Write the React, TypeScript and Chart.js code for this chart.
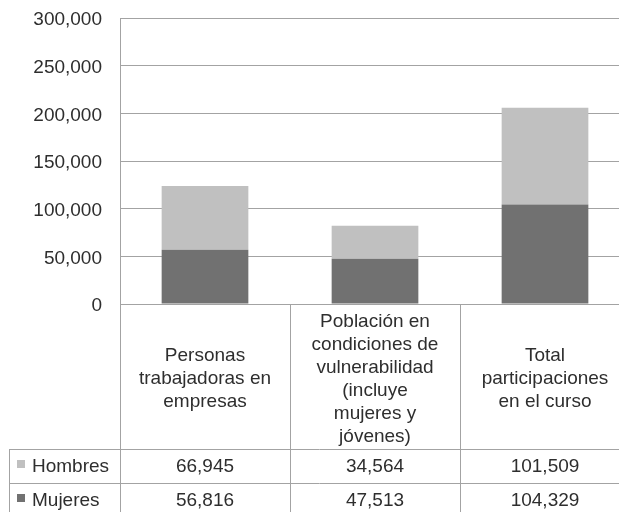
import React, { useEffect, useRef } from 'react';
import { Chart, registerables } from 'chart.js';

Chart.register(...registerables);

const categories: string[][] = [
  ['Personas', 'trabajadoras en', 'empresas'],
  ['Población en', 'condiciones de', 'vulnerabilidad', '(incluye', 'mujeres y', 'jóvenes)'],
  ['Total', 'participaciones', 'en el curso'],
];
const hombres = [66945, 34564, 101509];
const mujeres = [56816, 47513, 104329];
const seriesNames = ['Hombres', 'Mujeres'];
const yMin = 0;
const yMax = 300000;
const yStep = 50000;

const colorHombres = '#c0c0c0';
const colorMujeres = '#717171';
const lineColor = '#a3a3a3';
const textColor = '#2e2e2e';
const fontFamily = "'Liberation Sans', Arial, Helvetica, sans-serif";
const fontSize = 19;

const fmt = (v: number) => v.toLocaleString('en-US');

const tablePlugin = {
  id: 'dataTable',
  afterDraw(chart: any) {
    const { ctx, chartArea } = chart;
    const n = categories.length;
    const left = chartArea.left;
    const right = chartArea.right;
    const colW = (right - left) / n;
    const axisBottom = chartArea.bottom;
    const labelAreaH = 145;
    const rowH = 34;
    const tableTop = axisBottom + labelAreaH;
    const tableLeft = 9;
    const bottom = chart.height;

    ctx.save();
    ctx.strokeStyle = lineColor;
    ctx.lineWidth = 1;
    ctx.beginPath();
    for (let i = 0; i <= n; i++) {
      const x = Math.round(left + i * colW) + 0.5;
      ctx.moveTo(x, i === 0 ? chartArea.top : axisBottom);
      ctx.lineTo(x, bottom);
    }
    ctx.moveTo(tableLeft + 0.5, tableTop);
    ctx.lineTo(tableLeft + 0.5, bottom);
    for (let r = 0; r < 2; r++) {
      const y = Math.round(tableTop + r * rowH) + 0.5;
      ctx.moveTo(tableLeft, y);
      ctx.lineTo(right, y);
    }
    ctx.stroke();

    ctx.fillStyle = textColor;
    ctx.font = `${fontSize}px ${fontFamily}`;
    ctx.textAlign = 'center';
    ctx.textBaseline = 'middle';
    const lineH = 23;
    const labelCenter = axisBottom + 75;
    categories.forEach((lines, i) => {
      const cx = left + (i + 0.5) * colW;
      lines.forEach((t, j) => {
        const y = labelCenter + (j - (lines.length - 1) / 2) * lineH;
        ctx.fillText(t, cx, y);
      });
    });

    const rows = [
      { name: seriesNames[0], color: colorHombres, values: hombres },
      { name: seriesNames[1], color: colorMujeres, values: mujeres },
    ];
    rows.forEach((row, r) => {
      const cy = tableTop + r * rowH + rowH / 2 + 1;
      ctx.fillStyle = row.color;
      ctx.fillRect(17, cy - 7, 8, 8);
      ctx.fillStyle = textColor;
      ctx.textAlign = 'left';
      ctx.fillText(row.name, 32, cy);
      ctx.textAlign = 'center';
      row.values.forEach((v, i) => {
        const cx = left + (i + 0.5) * colW;
        ctx.fillText(fmt(v), cx, cy);
      });
    });
    ctx.restore();
  },
};

export default function App() {
  const ref = useRef<HTMLCanvasElement | null>(null);
  useEffect(() => {
    if (!ref.current) return;
    const chart = new Chart(ref.current, {
      type: 'bar',
      data: {
        labels: categories.map((c) => c.join(' ')),
        datasets: [
          {
            label: seriesNames[1],
            data: mujeres,
            backgroundColor: colorMujeres,
            borderWidth: 0,
          },
          {
            label: seriesNames[0],
            data: hombres,
            backgroundColor: colorHombres,
            borderWidth: 0,
          },
        ],
      },
      options: {
        responsive: false,
        animation: false,
        devicePixelRatio: 1,
        layout: { padding: { top: 18, bottom: 208, left: 0, right: 0 } },
        plugins: {
          legend: { display: false },
          tooltip: { enabled: false },
          title: { display: false },
        },
        datasets: { bar: { categoryPercentage: 1, barPercentage: 0.51 } },
        scales: {
          x: {
            stacked: true,
            display: false,
          },
          y: {
            stacked: true,
            min: yMin,
            max: yMax,
            afterFit: (scale: any) => {
              scale.width = 120;
            },
            border: { display: true, color: lineColor, width: 1 },
            grid: {
              color: lineColor,
              lineWidth: 1,
              drawTicks: true,
              tickLength: 18,
              tickColor: 'rgba(0,0,0,0)',
            },
            ticks: {
              stepSize: yStep,
              padding: 0,
              labelOffset: 2,
              color: textColor,
              font: { family: fontFamily, size: fontSize },
              callback: (v: any) => fmt(Number(v)),
            },
          },
        },
      },
      plugins: [tablePlugin],
    });
    return () => chart.destroy();
  }, []);
  return (
    <div style={{ position: 'fixed', left: 0, top: 0, width: 619, height: 512, overflow: 'hidden', background: '#fff' }}>
      <canvas ref={ref} width={630} height={512} style={{ display: 'block' }} />
    </div>
  );
}
